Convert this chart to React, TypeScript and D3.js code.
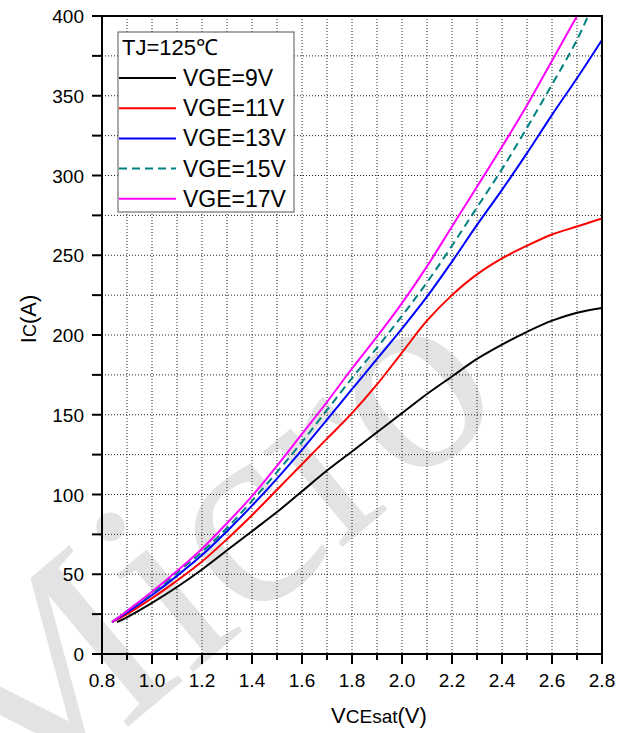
import * as d3 from "d3";
import React from "react";

// readings of the IC vs VCEsat curves, TJ = 125 C
const vStart = [0.84];
const vGrid = [0.9, 1.0, 1.1, 1.2, 1.3, 1.4, 1.5, 1.6, 1.7, 1.8, 1.9, 2.0, 2.1, 2.2, 2.3, 2.4, 2.5, 2.6, 2.7, 2.8];

const vge9V = [0.86, ...vGrid];
const ic9V = [20, 23, 32, 42, 53, 65, 77, 89, 102, 115, 127, 139, 151, 163, 174, 185, 194, 202, 209, 214, 217];

const vge11V = [...vStart, ...vGrid];
const ic11V = [20, 25, 35, 46, 58, 72, 87, 103, 119, 135, 151, 169, 189, 209, 225, 238, 248, 256, 263, 268, 273];

const vge13V = [...vStart, ...vGrid];
const ic13V = [20, 26, 37, 49, 62, 77, 93, 110, 128, 147, 166, 185, 204, 224, 246, 269, 291, 314, 338, 361, 385];

const vge15V = [...vStart, ...vGrid.slice(0, 19), 2.744];
const ic15V = [20, 27, 38, 51, 64, 79, 96, 114, 133, 153, 173, 192, 212, 233, 256, 280, 304, 330, 357, 385, 400];

const vge17V = [...vStart, ...vGrid.slice(0, 19)];
const ic17V = [20, 27, 39, 52, 66, 82, 99, 118, 138, 158, 179, 199, 220, 243, 268, 293, 318, 344, 372, 400];

const seriesNames = ["VGE=9V", "VGE=11V", "VGE=13V", "VGE=15V", "VGE=17V"];
const seriesColors = ["#000000", "#ff0000", "#0000ff", "#008080", "#ff00ff"];

const xTicks = [0.8, 1.0, 1.2, 1.4, 1.6, 1.8, 2.0, 2.2, 2.4, 2.6, 2.8];
const yTicks = [0, 50, 100, 150, 200, 250, 300, 350, 400];

const width = 625;
const height = 733;
const left = 102;
const right = 602;
const top = 16;
const bottom = 654;
const font = "'Liberation Sans', Arial, sans-serif";

export default function App() {
  const x = d3.scaleLinear().domain([0.8, 2.8]).range([left, right]);
  const y = d3.scaleLinear().domain([0, 400]).range([bottom, top]);

  const series = [
    { v: vge9V, ic: ic9V },
    { v: vge11V, ic: ic11V },
    { v: vge13V, ic: ic13V },
    { v: vge15V, ic: ic15V },
    { v: vge17V, ic: ic17V },
  ].map((s, i) => ({
    name: seriesNames[i],
    color: seriesColors[i],
    dashed: i === 3,
    points: s.v.map((v, j) => [v, s.ic[j]] as [number, number]),
  }));

  const line = d3
    .line<[number, number]>()
    .x((d) => x(d[0]))
    .y((d) => y(d[1]))
    .curve(d3.curveCatmullRom.alpha(0.5));

  const xMinor = d3.range(0.8, 2.81, 0.1);
  const yMinor = d3.range(0, 401, 25);

  const legendX = 118;
  const legendY = 32;

  return (
    <svg
      width={width}
      height={height}
      style={{ position: "absolute", left: 0, top: 0, background: "#fff" }}
      fontFamily={font}
    >
      <defs>
        <clipPath id="plot">
          <rect x={left} y={top} width={right - left} height={bottom - top} />
        </clipPath>
        <clipPath id="page">
          <rect x={0} y={0} width={width} height={height} />
        </clipPath>
      </defs>

      {/* watermark */}
      <g clipPath="url(#page)">
        <text
          x={0}
          y={0}
          transform="translate(5,830) rotate(-40)"
          fontFamily="'Liberation Serif', serif"
          fontSize={270}
          fill="#e3e3e3"
        >
          Micro
        </text>
      </g>

      {/* dotted grid */}
      <g stroke="#222" strokeWidth={1} strokeDasharray="1,2">
        {xMinor.slice(1, -1).map((v) => (
          <line key={"gx" + v} x1={x(v)} x2={x(v)} y1={top} y2={bottom} />
        ))}
        {yMinor.slice(1, -1).map((v) => (
          <line key={"gy" + v} x1={left} x2={right} y1={y(v)} y2={y(v)} />
        ))}
      </g>

      {/* curves */}
      <g clipPath="url(#plot)" fill="none">
        {series.map((s) => (
          <path
            key={s.name}
            d={line(s.points) ?? ""}
            stroke={s.color}
            strokeWidth={2}
            strokeDasharray={s.dashed ? "8,5" : undefined}
          />
        ))}
      </g>

      {/* frame */}
      <rect
        x={left}
        y={top}
        width={right - left}
        height={bottom - top}
        fill="none"
        stroke="#000"
        strokeWidth={2}
      />

      {/* ticks */}
      <g stroke="#000" strokeWidth={2}>
        {xMinor.map((v, i) => (
          <line
            key={"tx" + i}
            x1={x(v)}
            x2={x(v)}
            y1={bottom}
            y2={bottom + (i % 2 === 0 ? 10 : 6)}
          />
        ))}
        {yMinor.map((v, i) => (
          <line key={"ty" + i} x1={left - 10} x2={left} y1={y(v)} y2={y(v)} />
        ))}
      </g>
      <g fontSize={19} fill="#000">
        {xTicks.map((v) => (
          <text key={"lx" + v} x={x(v)} y={bottom + 33} textAnchor="middle">
            {d3.format(".1f")(v)}
          </text>
        ))}
        {yTicks.map((v) => (
          <text key={"ly" + v} x={left - 18} y={y(v) + 7} textAnchor="end">
            {v}
          </text>
        ))}
      </g>

      {/* axis titles */}
      <text x={379} y={723} textAnchor="middle" fontSize={22}>
        V<tspan fontSize={19}>CEsat</tspan>(V)
      </text>
      <text transform="translate(36,319) rotate(-90)" textAnchor="middle" fontSize={22}>
        I<tspan fontSize={18}>C</tspan>(A)
      </text>

      {/* legend */}
      <g>
        <rect x={legendX} y={legendY} width={176} height={180} fill="#fff" stroke="#555" strokeWidth={1} />
        <text x={legendX + 4} y={legendY + 23} fontSize={22}>
          TJ=125℃
        </text>
        {series.map((s, i) => (
          <g key={"lg" + s.name} transform={`translate(0,${legendY + 46 + i * 30.2})`}>
            <line
              x1={legendX + 1}
              x2={legendX + 58}
              y1={0}
              y2={0}
              stroke={s.color}
              strokeWidth={2}
              strokeDasharray={s.dashed ? "8,5" : undefined}
            />
            <text x={legendX + 65} y={8} fontSize={23}>
              {s.name}
            </text>
          </g>
        ))}
      </g>
    </svg>
  );
}
